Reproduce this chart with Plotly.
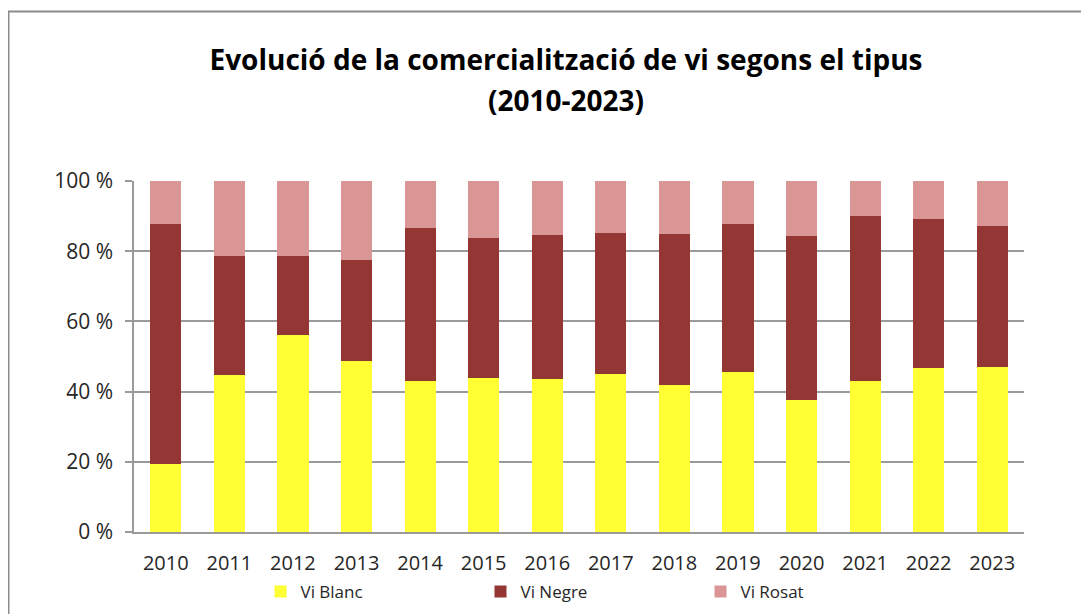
import plotly.graph_objects as go

years = ["2010", "2011", "2012", "2013", "2014", "2015", "2016",
         "2017", "2018", "2019", "2020", "2021", "2022", "2023"]
vi_blanc = [19.4, 44.7, 56.1, 48.7, 43.0, 43.9, 43.6, 45.0, 42.0, 45.7, 37.6, 43.1, 46.7, 47.1]
vi_negre_cum = [87.7, 78.6, 78.6, 77.5, 86.6, 83.8, 84.6, 85.2, 84.8, 87.7, 84.4, 89.9, 89.2, 87.1]
vi_negre = [round(n - b, 1) for n, b in zip(vi_negre_cum, vi_blanc)]
vi_rosat = [round(100 - n, 1) for n in vi_negre_cum]

series_names = ["Vi Blanc", "Vi Negre", "Vi Rosat"]
colors = ["#FFFF33", "#943634", "#D99694"]
title_line1 = "Evolució de la comercialització de vi segons el tipus"
title_line2 = "(2010-2023)"

FONT = "Open Sans"
TXT = "#262626"

fig = go.Figure()
for name, vals, col in zip(series_names, [vi_blanc, vi_negre, vi_rosat], colors):
    fig.add_trace(go.Bar(x=years, y=vals, name=name, marker=dict(color=col, line=dict(width=0))))

OFF = 8  # page body margin
W, H = 1089 - OFF, 614 - OFF
L, R, T, B = 134 - OFF, 1089 - 1024, 181 - OFF, 614 - 532
pw, ph = W - L - R, H - T - B

def px_x(p):
    return (p - OFF - L) / pw

def px_y(p):
    return (H - B - (p - OFF)) / ph

def cy(p):  # container y from page pixel
    return (H - (p - OFF)) / H

def cx(p):
    return (p - OFF) / W

fig.update_layout(
    width=W, height=H,
    barmode="stack", bargap=0.51,
    paper_bgcolor="white", plot_bgcolor="white",
    margin=dict(l=L, r=R, t=T, b=B),
    font=dict(family=FONT, size=20, color=TXT),
    title=dict(
        text="<b>" + title_line1 + "</b>",
        x=cx(566), xanchor="center", xref="container",
        y=cy(60), yanchor="middle", yref="container",
        font=dict(family=FONT, size=28, color="#000000"),
    ),
    annotations=[dict(
        text="<b>" + title_line2 + "</b>", showarrow=False,
        xref="paper", yref="paper", x=px_x(566), y=px_y(100),
        xanchor="center", yanchor="middle",
        font=dict(family=FONT, size=28, color="#000000"),
    )],
    yaxis=dict(
        range=[0, 100], tickvals=[0, 20, 40, 60, 80, 100],
        ticktext=["0 %", "20 %", "40 %", "60 %", "80 %", "100 %"],
        showgrid=True, gridcolor="#9a9a9a", gridwidth=1.5,
        showline=True, linecolor="#9a9a9a", linewidth=1.5,
        ticks="outside", ticklen=7, tickcolor="#9a9a9a", tickwidth=1.5,
        ticklabelstandoff=8, automargin=False,
        zeroline=False, fixedrange=True,
        tickfont=dict(size=21, color=TXT),
    ),
    xaxis=dict(
        showline=True, linecolor="#9a9a9a", linewidth=1.5,
        ticks="", showgrid=False, fixedrange=True,
        ticklabelstandoff=12, automargin=False,
        tickfont=dict(size=20, color=TXT),
    ),
    legend=dict(
        orientation="h", x=cx(260.5), xanchor="left", xref="container",
        y=cy(592), yanchor="middle", yref="container",
        entrywidth=175, entrywidthmode="pixels",
        font=dict(size=17, color=TXT), traceorder="normal",
    ),
    showlegend=True,
    shapes=[dict(
        type="rect", xref="paper", yref="paper",
        x0=px_x(8.5), x1=px_x(1120), y0=px_y(11.5), y1=px_y(660),
        line=dict(color="#8c8c8c", width=2), fillcolor="rgba(0,0,0,0)", layer="below",
    )],
)

fig.write_html("out.html")
